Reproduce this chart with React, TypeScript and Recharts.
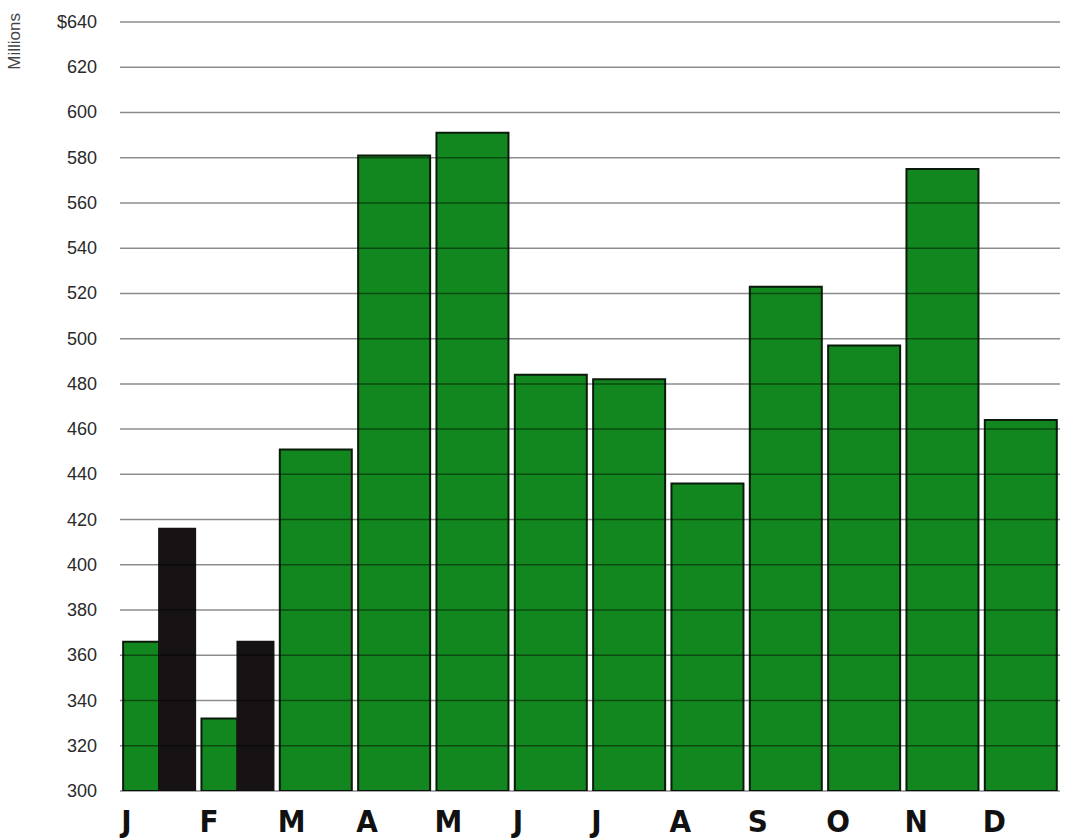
import { BarChart, Bar, XAxis, YAxis, ReferenceLine } from "recharts";

// Monthly totals, in millions of dollars
const months = ["J", "F", "M", "A", "M", "J", "J", "A", "S", "O", "N", "D"];
const thisYear = [366, 332, 451, 581, 591, 484, 482, 436, 523, 497, 575, 464];
// prior-year comparison only shown for the first two months
const lastYear: (number | null)[] = [416, 366, null, null, null, null, null, null, null, null, null, null];
const yTicks = [300, 320, 340, 360, 380, 400, 420, 440, 460, 480, 500, 520, 540, 560, 580, 600, 620, 640];

const GREEN = "#13871f";
const DARK = "#171314";

// months with a comparison get two half-width bars, the rest one full bar
const data = months.map((m, i) => ({
  key: `${m}${i}`,
  month: m,
  pairCur: lastYear[i] != null ? thisYear[i] : null,
  pairPrior: lastYear[i],
  single: lastYear[i] == null ? thisYear[i] : null,
}));

const MonthTick = (props: any) => {
  const { x, y, index } = props;
  return (
    <text
      x={x - 38}
      y={y}
      dy={5}
      textAnchor="start"
      fontFamily="'DejaVu Sans Condensed', 'DejaVu Sans', sans-serif"
      fontWeight={900}
      fontSize={31}
      fill="#111"
    >
      {months[index] ?? ""}
    </text>
  );
};

const ValueTick = (props: any) => {
  const { x, y, payload } = props;
  const label = payload.value === 640 ? "$640" : String(payload.value);
  return (
    <text
      x={x}
      y={y + 6}
      textAnchor="end"
      fontFamily="'Liberation Sans', Arial, sans-serif"
      fontSize={18}
      fill="#2a2a2a"
    >
      {label}
    </text>
  );
};

export default function App() {
  return (
    <div style={{ position: "absolute", left: 0, top: 0, width: 1073, height: 840, background: "#fff" }}>
      <BarChart
        width={1073}
        height={840}
        data={data}
        margin={{ top: 22, right: 13, bottom: 0, left: 0 }}
        barCategoryGap="4%"
        barGap={0}
      >
        <XAxis xAxisId="pair" dataKey="key" hide />
        <XAxis
          xAxisId="single"
          dataKey="key"
          axisLine={false}
          tickLine={false}
          tickMargin={0}
          height={49}
          interval={0}
          tick={(p: any) => <MonthTick {...p} />}
        />
        <YAxis
          domain={[300, 640]}
          ticks={yTicks}
          interval={0}
          allowDataOverflow
          axisLine={false}
          tickLine={false}
          width={120}
          tickMargin={17}
          tick={<ValueTick />}
        />
        <Bar xAxisId="pair" dataKey="pairCur" fill={GREEN} stroke="#0b1a0b" strokeWidth={2} isAnimationActive={false} />
        <Bar xAxisId="pair" dataKey="pairPrior" fill={DARK} stroke={DARK} strokeWidth={2} isAnimationActive={false} />
        <Bar xAxisId="single" dataKey="single" fill={GREEN} stroke="#0b1a0b" strokeWidth={2} isAnimationActive={false} />
        {yTicks.map((t) => (
          <ReferenceLine
            key={t}
            xAxisId="single"
            y={t}
            stroke="#000"
            strokeOpacity={0.45}
            strokeWidth={1.5}
          />
        ))}
      </BarChart>
      <div
        style={{
          position: "absolute",
          left: 6,
          top: 13,
          transform: "rotate(-90deg) translateX(-100%)",
          transformOrigin: "top left",
          fontFamily: "'Liberation Sans', Arial, sans-serif",
          fontSize: 17,
          lineHeight: "17px",
          color: "#444",
          whiteSpace: "nowrap",
        }}
      >
        Millions
      </div>
    </div>
  );
}
